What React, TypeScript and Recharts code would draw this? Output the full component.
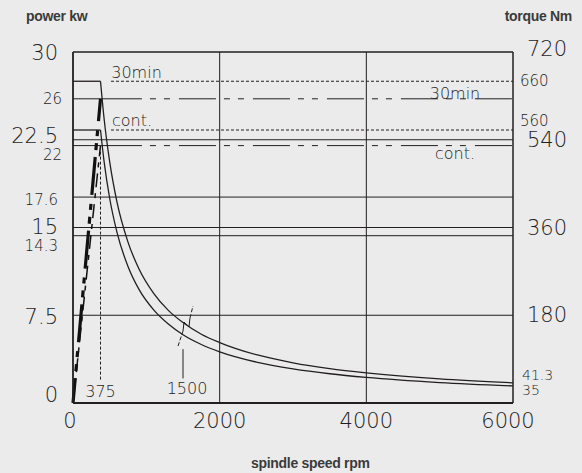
import React from 'react';
import { LineChart, Line, XAxis, YAxis, ReferenceLine, ReferenceDot } from 'recharts';

// constant torque up to the base speed, then constant power falloff
const baseSpeed = 375;
const flatSpeed = [0, 375];
const falloffSpeed = [375, 425, 500, 600, 750, 900, 1100, 1300, 1500, 1750, 2000, 2500, 3000, 3500, 4000, 5000, 6000];
const torque30min = [660, 582, 495, 412, 330, 275, 225, 190, 165, 141, 124, 99, 82.5, 70.7, 62, 49.5, 41.3];
const torqueCont = [560, 494, 420, 350, 280, 233, 191, 162, 140, 120, 105, 84, 70, 60, 52.5, 42, 35];
const ratedTorque = [660, 560]; // 30min, cont.
const ratedPower = [26, 22]; // 30min, cont.

const powerTicks = [0, 7.5, 14.3, 15, 17.6, 22, 22.5, 26, 30];
const bigPowerTicks = [0, 7.5, 15, 22.5, 30];
const torqueTicks = [35, 41.3, 180, 360, 540, 560, 660, 720];
const bigTorqueTicks = [180, 360, 540, 720];
const speedTicks = [0, 2000, 4000, 6000];
const gridPower = [7.5, 14.3, 15, 17.6, 22.5];
const gridSpeed = [2000, 4000];

const ink = '#231f20';
const textInk = '#1e1e1e';
const cadFont = "'DejaVu Sans', sans-serif";

const flat30 = flatSpeed.map((rpm) => ({ rpm, t: ratedTorque[0] }));
const flatCont = flatSpeed.map((rpm) => ({ rpm, t: ratedTorque[1] }));
const curve30 = falloffSpeed.map((rpm, i) => ({ rpm, t: torque30min[i] }));
const curveCont = falloffSpeed.map((rpm, i) => ({ rpm, t: torqueCont[i] }));

const powerShift: Record<string, number> = {
  '0': -8, '7.5': 2, '14.3': 10, '15': -1, '17.6': 3, '22': 9, '22.5': -4, '26': 0, '30': 1
};
const torqueShift: Record<string, number> = {
  '720': -3, '660': 0, '560': -9, '540': 0, '360': 0, '180': 0, '41.3': -8, '35': 4
};

function PowerTick(props: any) {
  const { x, y, payload } = props;
  const v = payload.value;
  const big = bigPowerTicks.includes(v);
  const dx = v === 26 || v === 22 ? -11 : -15;
  return (
    <text x={x + dx} y={y + (powerShift[String(v)] ?? 0)} textAnchor='end' dominantBaseline='central'
      fontSize={big ? 21 : 15} fill={textInk} fontFamily={cadFont} fontWeight={200}>
      {v}
    </text>
  );
}

function TorqueTick(props: any) {
  const { x, y, payload } = props;
  const v = payload.value;
  const big = bigTorqueTicks.includes(v);
  const dx = big ? 14 : v < 100 ? 9 : 7;
  return (
    <text x={x + dx} y={y + (torqueShift[String(v)] ?? 0)} textAnchor='start' dominantBaseline='central'
      fontSize={big ? 21 : v < 100 ? 14 : 15} fill={textInk} fontFamily={cadFont} fontWeight={200}>
      {v}
    </text>
  );
}

function SpeedTick(props: any) {
  const { x, y, payload } = props;
  const v = payload.value;
  const dx = v === 6000 ? -5 : v === 0 ? -3 : 0;
  return (
    <text x={x + dx} y={y + 18} textAnchor='middle' dominantBaseline='central'
      fontSize={21} fill={textInk} fontFamily={cadFont} fontWeight={200}>
      {v}
    </text>
  );
}

const noteStyle = { fill: textInk, fontSize: 16, fontFamily: cadFont, fontWeight: 200 };
const notes = [
  { text: '30min', rpm: 866, kw: 28.3 },
  { text: 'cont.', rpm: 805, kw: 24.2 },
  { text: '30min', rpm: 5209, kw: 26.5 },
  { text: 'cont.', rpm: 5209, kw: 21.3 },
  { text: '375', rpm: 375, kw: 1.03 },
  { text: '1500', rpm: 1555, kw: 1.28 }
];

const titleStyle: React.CSSProperties = {
  position: 'absolute',
  fontFamily: "'Liberation Sans', Arial, sans-serif",
  fontWeight: 700,
  fontSize: 14,
  letterSpacing: -0.3,
  color: '#3a3a3a',
  lineHeight: '14px',
  whiteSpace: 'nowrap'
};

export default function App() {
  return (
    <div style={{ position: 'fixed', left: 0, top: 0, width: 582, height: 473, background: '#ebebeb' }}>
      <LineChart width={582} height={473} margin={{ top: 52, right: 0, bottom: 0, left: 0 }}>
        <XAxis dataKey='rpm' type='number' domain={[0, 6000]} ticks={speedTicks} interval={0}
          height={70} tickSize={0} tickMargin={0} tickLine={false} tick={<SpeedTick />}
          axisLine={{ stroke: ink, strokeWidth: 1.8 }} allowDataOverflow />
        <YAxis yAxisId='p' orientation='left' domain={[0, 30]} ticks={powerTicks} interval={0}
          width={73} tickSize={0} tickMargin={0} tickLine={false} tick={<PowerTick />}
          axisLine={{ stroke: ink, strokeWidth: 1.8 }} allowDataOverflow />
        <YAxis yAxisId='t' orientation='right' domain={[0, 720]} ticks={torqueTicks} interval={0}
          width={69} tickSize={0} tickMargin={0} tickLine={false} tick={<TorqueTick />}
          axisLine={{ stroke: ink, strokeWidth: 1.5 }} allowDataOverflow />

        <ReferenceLine yAxisId='p' y={30} stroke={ink} strokeWidth={1.5} />
        {gridPower.map((v) => (
          <ReferenceLine key={'gp' + v} yAxisId='p' y={v} stroke={ink} strokeWidth={1} />
        ))}
        {gridSpeed.map((v) => (
          <ReferenceLine key={'gs' + v} yAxisId='p' x={v} stroke={ink} strokeWidth={1} />
        ))}

        {/* rated power lines: solid start then long-short-short dashes */}
        {ratedPower.map((v) => (
          <ReferenceLine key={'rp' + v} yAxisId='p' stroke={ink} strokeWidth={1}
            segment={[{ x: 0, y: v }, { x: 940, y: v }]} />
        ))}
        {ratedPower.map((v) => (
          <ReferenceLine key={'rpd' + v} yAxisId='p' stroke={ink} strokeWidth={1}
            strokeDasharray='37 8 6 8 6 9' strokeDashoffset={37}
            segment={[{ x: 940, y: v }, { x: 6000, y: v }]} />
        ))}

        {/* rated torque continued as dotted lines */}
        {ratedTorque.map((v) => (
          <ReferenceLine key={'rt' + v} yAxisId='t' stroke={ink} strokeWidth={1}
            strokeDasharray='3 2'
            segment={[{ x: 518, y: v }, { x: 6000, y: v }]} />
        ))}

        {/* power rise up to base speed */}
        <ReferenceLine yAxisId='p' stroke='#111' strokeWidth={3.2}
          strokeDasharray='38 7 7 7 6 9' strokeDashoffset={13}
          segment={[{ x: 0, y: 0 }, { x: baseSpeed, y: ratedPower[0] }]} />
        <ReferenceLine yAxisId='p' stroke='#111' strokeWidth={1.5}
          strokeDasharray='14 6 5 6'
          segment={[{ x: 0, y: 0 }, { x: baseSpeed, y: ratedPower[1] }]} />

        {/* base speed marker and 1500 marker */}
        <ReferenceLine yAxisId='p' stroke={ink} strokeWidth={1} strokeDasharray='3 2'
          segment={[{ x: baseSpeed, y: 2 }, { x: baseSpeed, y: 22 }]} />
        <ReferenceLine yAxisId='p' stroke={ink} strokeWidth={1}
          segment={[{ x: 1500, y: 2.1 }, { x: 1500, y: 4.6 }]} />

        {/* break symbol */}
        <ReferenceLine yAxisId='p' stroke={ink} strokeWidth={1} strokeDasharray='4 2'
          segment={[{ x: 1432, y: 4.87 }, { x: 1500, y: 6.15 }]} />
        <ReferenceLine yAxisId='p' stroke={ink} strokeWidth={1}
          segment={[{ x: 1500, y: 6.15 }, { x: 1514, y: 6.92 }]} />
        <ReferenceLine yAxisId='p' stroke={ink} strokeWidth={1}
          segment={[{ x: 1514, y: 6.92 }, { x: 1582, y: 6.5 }]} />
        <ReferenceLine yAxisId='p' stroke={ink} strokeWidth={1}
          segment={[{ x: 1582, y: 6.5 }, { x: 1595, y: 7.26 }]} />
        <ReferenceLine yAxisId='p' stroke={ink} strokeWidth={1} strokeDasharray='4 2'
          segment={[{ x: 1595, y: 7.26 }, { x: 1636, y: 8.29 }]} />

        <Line yAxisId='t' data={flat30} dataKey='t' type='linear' stroke={ink} strokeWidth={1.3}
          dot={false} activeDot={false} isAnimationActive={false} />
        <Line yAxisId='t' data={flatCont} dataKey='t' type='linear' stroke={ink} strokeWidth={1.3}
          dot={false} activeDot={false} isAnimationActive={false} />
        <Line yAxisId='t' data={curve30} dataKey='t' type='monotone' stroke={ink} strokeWidth={1.3}
          dot={false} activeDot={false} isAnimationActive={false} />
        <Line yAxisId='t' data={curveCont} dataKey='t' type='monotone' stroke={ink} strokeWidth={1.3}
          dot={false} activeDot={false} isAnimationActive={false} />

        {notes.map((n, i) => (
          <ReferenceDot key={'n' + i} yAxisId='p' x={n.rpm} y={n.kw} r={0} stroke='none'
            label={{ value: n.text, position: 'center', ...noteStyle }} />
        ))}
      </LineChart>
      <div style={{ ...titleStyle, left: 26, top: 9 }}>power kw</div>
      <div style={{ ...titleStyle, right: 10, top: 9 }}>torque Nm</div>
      <div style={{ ...titleStyle, left: 251, top: 456 }}>spindle speed rpm</div>
    </div>
  );
}
